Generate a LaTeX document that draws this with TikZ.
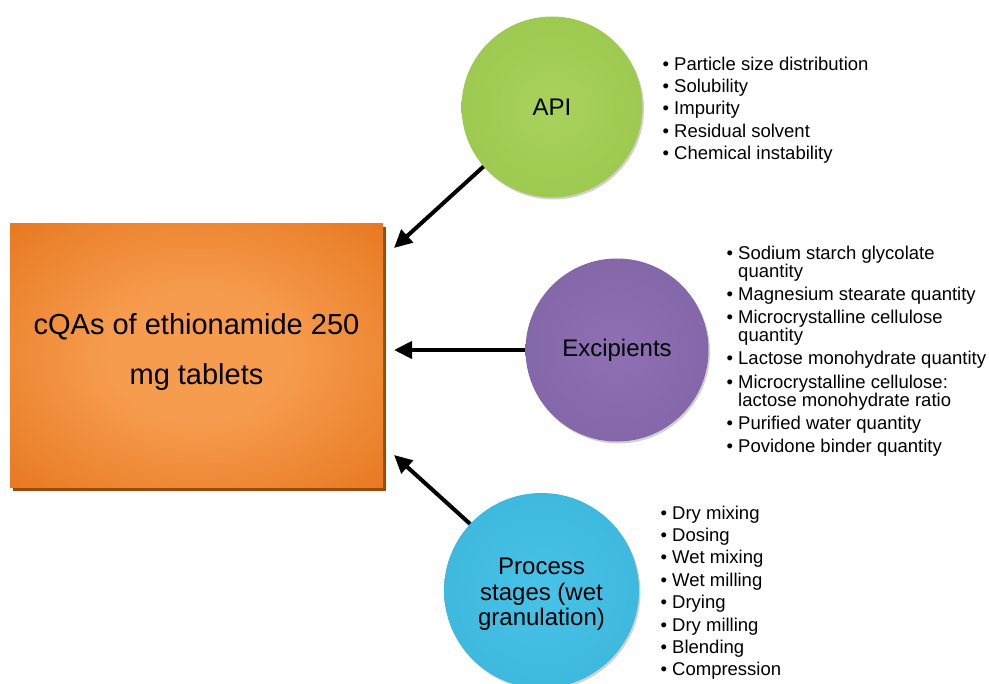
\documentclass[tikz,border=0pt]{standalone}
\usepackage{fontspec}
\setmainfont{Liberation Sans}
\usetikzlibrary{arrows.meta,shadows}
\definecolor{orL}{HTML}{F69C4E}
\definecolor{orD}{HTML}{E1690D}
\definecolor{orS}{HTML}{9C4A0B}
\definecolor{grL}{HTML}{A8D25C}
\definecolor{grM}{HTML}{9AC64C}
\definecolor{grD}{HTML}{7CA238}
\definecolor{puL}{HTML}{8E70B3}
\definecolor{puM}{HTML}{8063A5}
\definecolor{puD}{HTML}{634788}
\definecolor{aqL}{HTML}{48C2E6}
\definecolor{aqM}{HTML}{3AB5DB}
\definecolor{aqD}{HTML}{2594B8}
\pgfdeclareradialshading{boxsh}{\pgfpointorigin}{color(0bp)=(orL); color(12bp)=(orL); color(46bp)=(orD); color(50bp)=(orD)}
\pgfdeclareradialshading{grsh}{\pgfpointorigin}{color(0bp)=(grL); color(36bp)=(grM); color(46bp)=(grM); color(50bp)=(grD)}
\pgfdeclareradialshading{push}{\pgfpointorigin}{color(0bp)=(puL); color(36bp)=(puM); color(46bp)=(puM); color(50bp)=(puD)}
\pgfdeclareradialshading{aqsh}{\pgfpointorigin}{color(0bp)=(aqL); color(36bp)=(aqM); color(46bp)=(aqM); color(50bp)=(aqD)}
\tikzset{
  mainbox/.style={rectangle, shading=boxsh, minimum width=373pt, minimum height=264pt,
    inner sep=0pt,
    drop shadow={shadow xshift=3pt, shadow yshift=-3pt, fill=orS, opacity=1}},
  boxtext/.style={inner sep=0pt, align=center, font=\fontsize{29}{50}\selectfont},
  ball/.style={circle, inner sep=0pt, align=center, font=\fontsize{24}{25.5}\selectfont,
    drop shadow={shadow xshift=1.5pt, shadow yshift=-2pt, fill=black, opacity=0.18}},
  blist/.style={anchor=north west, inner sep=0pt, align=left, font=\fontsize{18.5}{22.4}\selectfont},
  arr/.style={line width=4pt, -{Triangle[length=18pt,width=17pt]}}
}
\newcommand{\bl}{\textbullet\ }
\newcommand{\hb}{\hphantom{\textbullet\ }}
\begin{document}
\begin{tikzpicture}[x=1pt,y=-1pt]
\useasboundingbox (0,0) rectangle (989,684);
\node[mainbox] (box) at (196.5,356) {};
\node[boxtext] (boxt) at ([yshift=3.5pt]box.center) {cQAs of ethionamide 250\\mg tablets};
\node[ball, shading=grsh, minimum size=181pt] (api) at (552,107) {API};
\node[ball, shading=push, minimum size=183pt] (exc) at (617,350) {Excipients};
\node[ball, shading=aqsh, minimum size=195pt] (proc) at (541.5,590.5) {\rule{0pt}{24.5pt}Process\\stages (wet\\granulation)};
\node[blist] (apil) at (662.4,56.5) {\bl Particle size distribution\\\bl Solubility\\\bl Impurity\\\bl Residual solvent\\\bl Chemical instability};
\node[blist, font=\fontsize{18.5}{23.3}\selectfont] (excl) at (726.4,245.4) {\bl Sodium starch glycolate\\[-5.3pt]\hb quantity\\\bl Magnesium stearate quantity\\\bl Microcrystalline cellulose\\[-5.3pt]\hb quantity\\\bl Lactose monohydrate quantity\\\bl Microcrystalline cellulose:\\[-5.3pt]\hb lactose monohydrate ratio\\\bl Purified water quantity\\\bl Povidone binder quantity};
\node[blist] (procl) at (660.4,505.5) {\bl Dry mixing\\\bl Dosing\\\bl Wet mixing\\\bl Wet milling\\\bl Drying\\\bl Dry milling\\\bl Blending\\\bl Compression};
\coordinate (t1) at (394,248);
\coordinate (t2) at (394,350);
\coordinate (t3) at (394,455);
\draw[arr] (api.221) -- (t1);
\draw[arr] (exc.west) -- (t2);
\draw[arr] (proc.137) -- (t3);
\end{tikzpicture}
\end{document}
